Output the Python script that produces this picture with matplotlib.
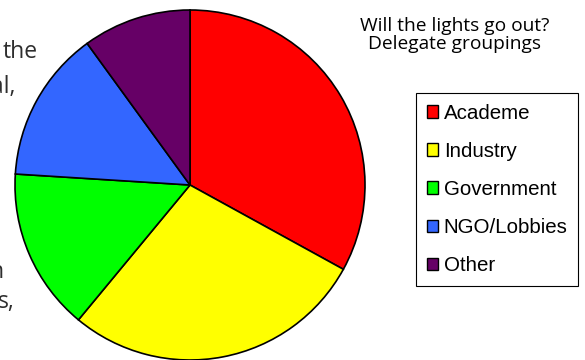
import matplotlib.pyplot as plt

# delegate groupings (percent of delegates)
groups = ['Academe', 'Industry', 'Government', 'NGO/Lobbies', 'Other']
shares = [33, 28, 15, 14, 10]
colors = ['#FF0000', '#FFFF00', '#00FF00', '#3366FF', '#660066']

W, H = 585, 360
fig = plt.figure(figsize=(W / 100, H / 100), dpi=100)
ax = fig.add_axes([0, 0, 1, 1])
ax.set_xlim(0, W)
ax.set_ylim(0, H)
ax.set_aspect('equal')
ax.axis('off')

wedges, _ = ax.pie(shares, colors=colors, center=(190, H - 185), radius=175,
                   startangle=90, counterclock=False,
                   wedgeprops=dict(edgecolor='black', linewidth=1.2))
ax.set_xlim(0, W)
ax.set_ylim(0, H)

# title
ax.text(455, H - 17, 'Will the lights go out?\nDelegate groupings', ha='center', va='top',
        fontsize=13.8, family='Open Sans', linespacing=1.0, color='black')

# clipped text from the page behind the chart
frag_style = dict(fontsize=16.5, family='Open Sans', color='#2e2e2e', ha='right', va='baseline')
ax.text(38, H - 58, 'the', **frag_style)
ax.text(15, H - 93, 'al,', **frag_style)
ax.text(4, H - 278, 'n', **frag_style)
ax.text(15, H - 308, 's,', **frag_style)

leg = ax.legend(wedges, groups, loc='upper left',
                bbox_to_anchor=(416 / W, 1 - 93 / H), bbox_transform=fig.transFigure,
                prop=dict(family='Liberation Sans', size=14.8),
                handlelength=0.55, handleheight=0.55, handletextpad=0.28,
                labelspacing=0.93, borderpad=0.52, borderaxespad=0,
                frameon=True, fancybox=False, framealpha=1, edgecolor='black')
leg.get_frame().set_linewidth(0.8)
for h in leg.legend_handles:
    h.set_linewidth(1.0)

fig.savefig('out.png', dpi=100)
